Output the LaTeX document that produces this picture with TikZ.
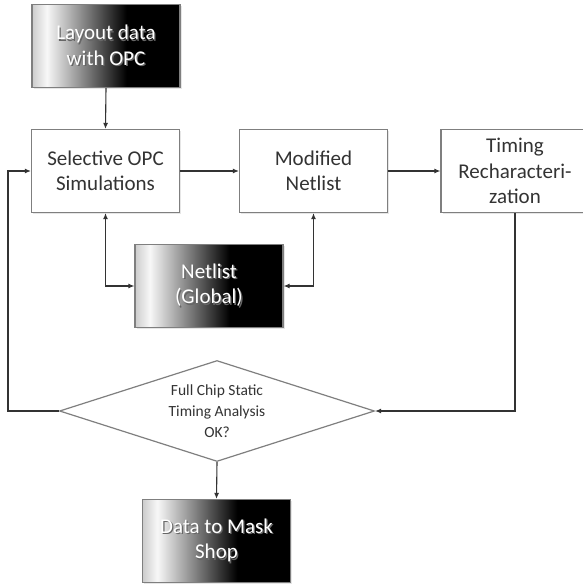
\documentclass[tikz,border=0pt]{standalone}
\usepackage{fontspec}
\setmainfont{Carlito}
\usetikzlibrary{shapes.geometric,arrows.meta,shadows}
\pgfdeclarehorizontalshading{wbshade}{100bp}{color(0bp)=(white); color(25bp)=(white!80!black); color(30bp)=(white!97!black); color(57bp)=(black); color(100bp)=(black)}
\definecolor{edge}{HTML}{7F7F7F}
\definecolor{ink}{HTML}{333333}
\newcommand{\shtxt}[1]{\makebox[0pt][l]{\raisebox{-1.3pt}{\hspace{1.3pt}\textcolor{black!60}{#1}}}#1}
\tikzset{
  plainbox/.style={draw=edge, line width=1.2pt, fill=white, minimum width=148pt, minimum height=83pt,
    align=center, text=ink, font=\fontsize{21}{25.5}\selectfont, inner sep=0pt,
    drop shadow={opacity=0.2, shadow xshift=1.5pt, shadow yshift=-1.5pt}},
  darkbox/.style={plainbox, shading=wbshade, text=white},
  decision/.style={diamond, draw=edge, line width=1.2pt, fill=white, minimum width=315pt, minimum height=101pt,
    aspect=3.1, inner sep=0pt, align=center, text=ink, font=\fontsize{15.5}{21}\selectfont},
  conn/.style={draw=ink, line width=1.1pt, -{Latex[length=6pt,width=5pt]}},
  biconn/.style={draw=ink, line width=1.1pt, {Latex[length=6pt,width=5pt]}-{Latex[length=6pt,width=5pt]}}
}
\begin{document}
\begin{tikzpicture}[x=1pt,y=-1pt]
\useasboundingbox (0,0) rectangle (583,584);
\node[darkbox] (lay) at (106,46) {\shtxt{Layout data}\\\shtxt{with OPC}};
\node[plainbox] (sel) at (105.5,171) {Selective OPC\\Simulations};
\node[plainbox] (mod) at (313.5,171) {Modified\\Netlist};
\node[plainbox] (tim) at (515,171) {Timing\\Recharacteri-\\zation};
\node[darkbox] (net) at (209,286) {\shtxt{Netlist}\\\shtxt{(Global)}};
\node[decision] (dia) at (217,411) {Full Chip Static\\Timing Analysis\\OK?};
\node[darkbox] (mask) at (216.5,541) {\shtxt{Data to Mask}\\\shtxt{Shop}};
\coordinate (fb) at (8,411);

\draw[conn] (lay.south) -- (sel.north);
\draw[conn] (sel.east) -- (mod.west);
\draw[conn] (mod.east) -- (tim.west);
\draw[biconn] (sel.south) |- (net.west);
\draw[biconn] (mod.south) |- (net.east);
\draw[conn] (tim.south) |- (dia.east);
\draw[conn] (dia.west) -- (fb) |- (sel.west);
\draw[conn] (dia.south) -- (mask.north);
\end{tikzpicture}
\end{document}
